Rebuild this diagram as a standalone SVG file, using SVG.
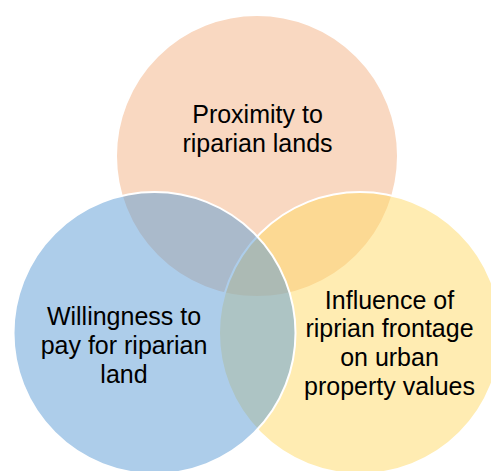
<svg xmlns="http://www.w3.org/2000/svg" width="491" height="471" viewBox="0 0 491 471">
  <style>
    .c { stroke: #FFFFFF; stroke-width: 2; fill-opacity: 0.5; }
    .t { font-family: "Liberation Sans", Arial, sans-serif; font-size: 25px; fill: #000000; text-anchor: middle; }
  </style>
  <rect width="491" height="471" fill="#FFFFFF"/>
  <g id="node-proximity">
    <circle class="c" cx="257" cy="156" r="141" fill="#F4B183"/>
    <text class="t" x="257.5" y="123">Proximity to</text>
    <text class="t" x="257.5" y="152">riparian lands</text>
  </g>
  <g id="node-influence">
    <circle class="c" cx="360" cy="333" r="141" fill="#FFD966"/>
    <text class="t" x="389.5" y="308.5">Influence of</text>
    <text class="t" x="389.5" y="337">riprian frontage</text>
    <text class="t" x="389.5" y="366">on urban</text>
    <text class="t" x="389.5" y="395">property values</text>
  </g>
  <g id="node-willingness">
    <circle class="c" cx="154.5" cy="333" r="141" fill="#5B9BD5"/>
    <text class="t" x="124" y="324.5">Willingness to</text>
    <text class="t" x="124" y="353.5">pay for riparian</text>
    <text class="t" x="124" y="382.5">land</text>
  </g>
</svg>
